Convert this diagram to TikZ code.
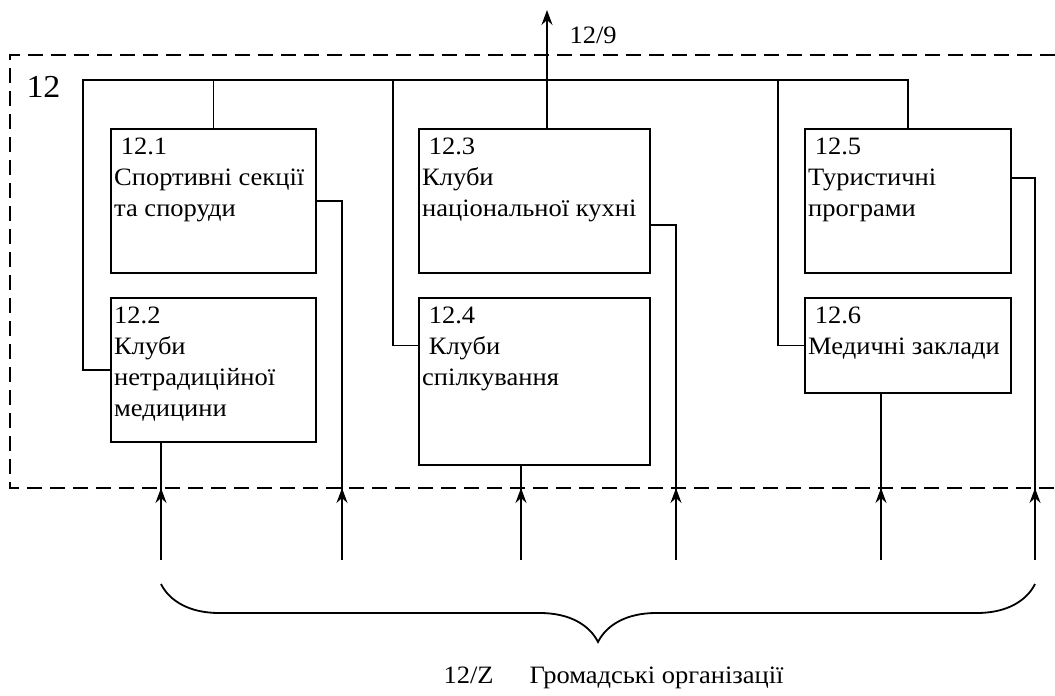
\documentclass[tikz,border=0pt]{standalone}
\usepackage{fontspec}
\setmainfont{Liberation Serif}[FakeStretch=1.06]
\usetikzlibrary{arrows.meta,decorations.pathreplacing}

\begin{document}
\begin{tikzpicture}[x=1pt,y=-1pt,
    blk/.style={draw,line width=1.8pt,anchor=north west,inner sep=0pt},
    txt/.style={anchor=north west,align=left,inner xsep=4pt,inner ysep=0pt,yshift=-10pt,font=\fontsize{25}{31}\selectfont},
    lbl/.style={font=\fontsize{25}{31}\selectfont},
    ln/.style={line width=1.8pt},
    upar/.style={line width=1.8pt,-{Stealth[length=15pt,width=11pt,inset=5pt]}}]
    \useasboundingbox (0,0) rectangle (1055,696);

    % frame of block 12
    \draw[line width=1.8pt,dash pattern=on 15pt off 8pt] (1055,55) -- (10,55) -- (10,488) -- (1055,488);
    \node[font=\fontsize{32}{38}\selectfont,anchor=base west] (n12) at (23,97) {12};

    \node[blk,minimum width=205pt,minimum height=144pt] (b121) at (110,128) {};
    \node[blk,minimum width=205pt,minimum height=144pt] (b122) at (110,297) {};
    \node[blk,minimum width=231pt,minimum height=144pt] (b123) at (418,128) {};
    \node[blk,minimum width=231pt,minimum height=167pt] (b124) at (418,297) {};
    \node[blk,minimum width=206pt,minimum height=144pt] (b125) at (804,128) {};
    \node[blk,minimum width=206pt,minimum height=95pt] (b126) at (804,297) {};

    \node[txt] (t121) at (b121.north west) {\ 12.1\\Спортивні секції\\та споруди};
    \node[txt] (t122) at (b122.north west) {12.2\\Клуби\\нетрадиційної\\медицини};
    \node[txt] (t123) at (b123.north west) {\ 12.3\\Клуби\\національної кухні};
    \node[txt] (t124) at (b124.north west) {\ 12.4\\\ Клуби\\спілкування};
    \node[txt] (t125) at (b125.north west) {\ 12.5\\Туристичні\\програми};
    \node[txt] (t126) at (b126.north west) {\ 12.6\\Медичні заклади};

    % control bus
    \coordinate (busL) at (83,80);
    \draw[ln] (b122.west) -| (busL) -| (b125.north);
    \draw[ln] (b121.north) -- (b121.north |- busL);
    \draw[ln] (b124.west |- b126.west) -| ([xshift=-25pt]b124.west |- busL);
    \draw[ln] (b126.west) -| ([xshift=-26pt]b126.west |- busL);

    % output
    \coordinate (out9) at (547,10);
    \draw[upar] (b123.north -| out9) -- (out9);
    \node[lbl,anchor=base west] (l129) at (566,43) {12/9};

    % inputs
    \coordinate (fr) at (10,488);
    \coordinate (in1) at (161,560);
    \coordinate (in2) at (342,560);
    \coordinate (in3) at (521,560);
    \coordinate (in4) at (676,560);
    \coordinate (in5) at (881,560);
    \coordinate (in6) at (1035,560);
    \draw[ln] (b122.south -| in1) -- (in1);
    \draw[ln] (b121.east) -| (in2);
    \draw[ln] (b124.south -| in3) -- (in3);
    \draw[ln] ([yshift=-24pt]b123.east) -| (in4);
    \draw[ln] (b126.south -| in5) -- (in5);
    \draw[ln] ([yshift=23pt]b125.east) -| (in6);
    \draw[upar] (in1) -- (in1 |- fr);
    \draw[upar] (in2) -- (in2 |- fr);
    \draw[upar] (in3) -- (in3 |- fr);
    \draw[upar] (in4) -- (in4 |- fr);
    \draw[upar] (in5) -- (in5 |- fr);
    \draw[upar] (in6) -- (in6 |- fr);

    % brace
    \coordinate (brL) at (161,584);
    \coordinate (brR) at (1035,584);
    \draw[ln,decorate,decoration={brace,mirror,amplitude=58pt}] (brL) -- (brR);
    \node[lbl,anchor=base west] (org) at (440,683) {12/Z\hspace{36pt}Громадські організації};
\end{tikzpicture}
\end{document}
